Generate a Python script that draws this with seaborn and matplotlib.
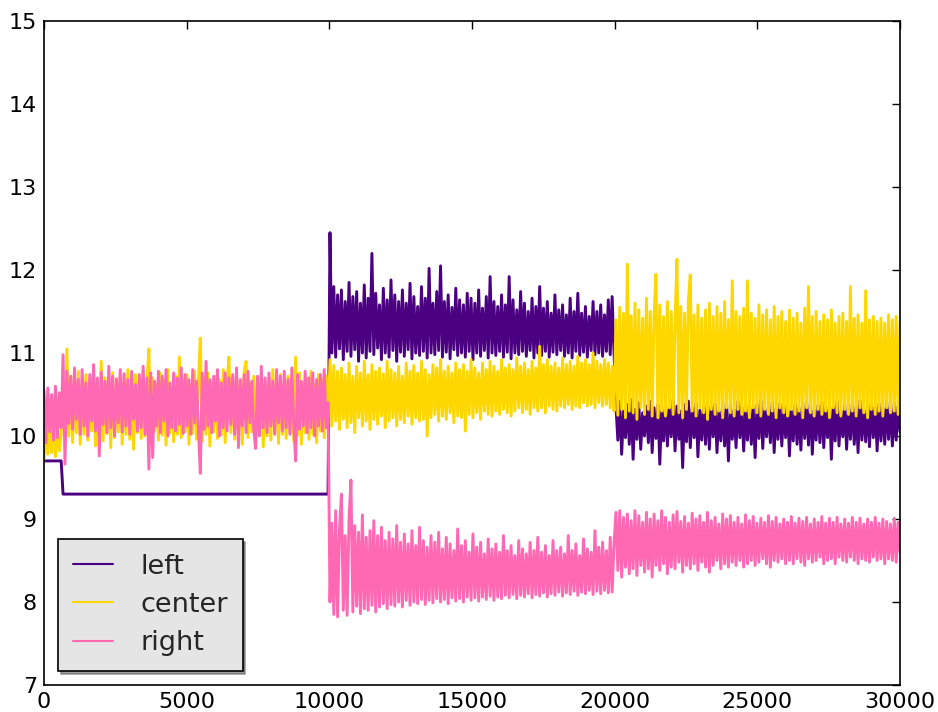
import numpy as np
import pandas as pd
import matplotlib
matplotlib.use("Agg")
import matplotlib.pyplot as plt
import seaborn as sns

# ---------------- data ----------------
SERIES = ["left", "center", "right"]
COLORS = ["#4B0082", "#FFD700", "#FF69B4"]
X_TICKS = [0, 5000, 10000, 15000, 20000, 25000, 30000]
Y_TICKS = [7, 8, 9, 10, 11, 12, 13, 14, 15]

LEFT_A = [9.70] * 10 + [9.30] * 140
LEFT_B = [
    12.45, 11.00, 11.80, 10.95, 11.70, 11.05, 11.76, 10.92, 11.62, 11.02,
    11.85, 10.96, 11.68, 11.04, 11.74, 10.90, 11.60, 11.00, 11.82, 10.94,
    11.66, 11.02, 12.20, 10.98, 11.72, 11.06, 11.58, 10.92, 11.78, 11.00,
    11.64, 10.95, 11.88, 11.03, 11.70, 10.90, 11.62, 11.01, 11.76, 10.96,
    11.60, 11.04, 11.84, 10.93, 11.68, 11.00, 11.56, 10.97, 11.80, 11.02,
    11.66, 10.94, 12.02, 11.00, 11.60, 10.98, 11.74, 11.03, 12.05, 10.95,
    11.62, 11.01, 11.70, 10.93, 11.55, 11.04, 11.78, 10.97, 11.64, 11.00,
    11.58, 10.95, 11.72, 11.02, 11.66, 10.92, 11.60, 11.00, 11.76, 10.96,
    11.54, 11.03, 11.68, 10.94, 11.92, 11.00, 11.62, 10.97, 11.56, 11.02,
    11.70, 10.95, 11.58, 11.01, 11.92, 10.93, 11.64, 11.00, 11.52, 10.98,
    11.74, 11.02, 11.60, 10.96, 11.50, 11.03, 11.66, 10.94, 11.56, 11.00,
    11.80, 10.97, 11.54, 11.02, 11.62, 10.95, 11.48, 11.01, 11.70, 10.98,
    11.52, 11.03, 11.58, 10.96, 11.46, 11.00, 11.66, 10.94, 11.50, 11.02,
    11.72, 10.97, 11.48, 11.01, 11.56, 10.95, 11.44, 11.03, 11.62, 10.98,
    11.50, 11.00, 11.58, 10.96, 11.46, 11.02, 11.64, 10.98, 11.68, 11.00,
]
LEFT_C = [
    10.36, 9.95, 10.42, 9.78, 10.30, 9.98, 10.38, 9.90, 10.44, 9.72,
    10.32, 9.96, 10.40, 9.84, 10.28, 10.00, 10.36, 9.92, 10.42, 9.80,
    10.34, 9.97, 10.38, 9.66, 10.30, 9.94, 10.40, 9.88, 10.33, 9.99,
    10.44, 9.82, 10.36, 9.96, 10.30, 9.62, 10.38, 9.93, 10.42, 9.86,
    10.34, 9.98, 10.40, 9.75, 10.31, 9.95, 10.37, 9.90, 10.43, 9.84,
    10.35, 9.99, 10.39, 9.80, 10.30, 9.94, 10.41, 9.88, 10.34, 9.70,
    10.38, 9.96, 10.32, 9.86, 10.42, 9.98, 10.36, 9.82, 10.30, 9.95,
    10.40, 9.90, 10.34, 9.74, 10.38, 9.97, 10.44, 9.85, 10.32, 9.99,
    10.37, 9.92, 10.41, 9.80, 10.33, 9.96, 10.39, 9.88, 10.35, 9.98,
    10.42, 9.76, 10.30, 9.94, 10.38, 9.90, 10.34, 9.83, 10.40, 9.97,
    10.36, 9.89, 10.43, 9.78, 10.31, 9.95, 10.37, 9.92, 10.41, 9.86,
    10.33, 9.98, 10.39, 9.72, 10.35, 9.94, 10.42, 9.88, 10.30, 9.99,
    10.38, 9.84, 10.34, 9.96, 10.40, 9.90, 10.36, 9.80, 10.43, 9.95,
    10.32, 9.93, 10.38, 9.87, 10.41, 9.98, 10.35, 9.82, 10.39, 9.94,
    10.34, 9.90, 10.42, 9.96, 10.37, 9.88, 10.40, 9.95, 10.36, 10.05,
]

CENTER_A = [
    9.72, 10.05, 9.78, 10.12, 9.80, 10.08, 9.75, 10.10, 9.82, 10.02,
    10.60, 9.96, 11.05, 10.00, 10.72, 9.92, 10.66, 10.04, 10.78, 9.90,
    10.62, 10.02, 10.74, 9.95, 10.58, 10.06, 10.80, 9.88, 10.68, 10.00,
    10.90, 9.94, 10.70, 10.03, 10.64, 9.86, 10.76, 9.98, 10.60, 10.05,
    10.72, 9.90, 10.66, 10.02, 10.80, 9.96, 10.62, 9.84, 10.74, 10.04,
    10.68, 9.97, 10.78, 10.00, 10.64, 11.05, 9.92, 10.70, 10.06, 10.62,
    9.95, 10.76, 10.01, 10.66, 9.89, 10.80, 10.04, 10.58, 9.93, 10.72,
    10.02, 10.95, 9.98, 10.68, 10.05, 10.74, 9.90, 10.62, 10.03, 10.78,
    9.96, 10.66, 11.18, 9.94, 10.70, 10.02, 10.76, 9.88, 10.64, 10.05,
    10.72, 9.97, 10.68, 10.01, 10.80, 9.92, 10.62, 10.95, 10.04, 10.70,
    9.96, 10.74, 10.02, 10.66, 9.90, 10.78, 10.90, 9.98, 10.64, 10.05,
    10.72, 9.93, 10.68, 10.03, 10.76, 9.87, 10.62, 10.00, 10.70, 9.95,
    10.80, 10.04, 10.66, 9.91, 10.74, 10.02, 10.60, 9.97, 10.72, 10.05,
    10.68, 9.94, 10.95, 10.01, 10.76, 9.90, 10.64, 10.04, 10.70, 9.96,
    10.78, 10.02, 10.62, 9.92, 10.74, 10.06, 10.68, 9.98, 10.72, 10.15,
]
CENTER_B = [
    10.92, 10.12, 10.85, 10.18, 10.78, 10.08, 10.82, 10.20, 10.74, 10.10,
    10.88, 10.16, 10.72, 10.04, 10.84, 10.22, 10.76, 10.12, 10.90, 10.18,
    10.74, 10.08, 10.86, 10.20, 10.78, 10.14, 10.82, 10.24, 10.75, 10.10,
    10.90, 10.18, 10.80, 10.22, 10.76, 10.12, 10.84, 10.20, 10.72, 10.16,
    10.88, 10.24, 10.78, 10.14, 10.85, 10.22, 10.76, 10.18, 10.90, 10.20,
    10.80, 10.00, 10.74, 10.22, 10.86, 10.26, 10.82, 10.18, 10.92, 10.24,
    10.78, 10.20, 10.84, 10.28, 10.76, 10.16, 10.88, 10.24, 10.80, 10.22,
    10.86, 10.06, 10.78, 10.26, 10.92, 10.22, 10.82, 10.28, 10.76, 10.20,
    10.88, 10.30, 10.80, 10.26, 10.90, 10.24, 10.84, 10.30, 10.78, 10.26,
    10.92, 10.32, 10.82, 10.28, 10.86, 10.24, 10.80, 10.30, 10.94, 10.34,
    10.84, 10.28, 10.88, 10.32, 10.80, 10.26, 10.90, 10.34, 10.82, 10.30,
    11.08, 10.34, 10.86, 10.28, 10.92, 10.36, 10.84, 10.32, 10.88, 10.30,
    10.82, 10.36, 10.94, 10.34, 10.86, 10.38, 10.90, 10.32, 10.84, 10.36,
    10.96, 10.34, 10.88, 10.40, 10.92, 10.36, 10.86, 10.38, 11.00, 10.34,
    10.90, 10.40, 10.86, 10.36, 10.92, 10.38, 10.88, 10.34, 10.84, 10.30,
]
CENTER_C = [
    11.40, 10.25, 11.55, 10.32, 11.48, 10.22, 12.07, 10.30, 11.45, 10.28,
    11.60, 10.20, 11.52, 10.34, 11.42, 10.26, 11.66, 10.32, 11.50, 10.24,
    11.46, 11.95, 10.22, 11.58, 10.30, 11.44, 10.24, 11.62, 10.34, 11.50,
    10.26, 11.40, 12.13, 10.28, 11.56, 10.22, 11.48, 10.32, 11.64, 11.94,
    10.30, 11.46, 10.24, 11.58, 10.34, 11.42, 10.28, 11.52, 10.20, 11.60,
    10.32, 11.44, 10.26, 11.56, 10.30, 11.48, 10.22, 11.62, 10.34, 11.40,
    10.28, 11.87, 10.24, 11.50, 10.32, 11.44, 10.26, 11.54, 10.30, 11.87,
    10.22, 11.48, 10.34, 11.42, 10.28, 11.58, 10.24, 11.46, 10.32, 11.52,
    10.26, 11.40, 10.30, 11.56, 10.22, 11.44, 10.34, 11.50, 10.28, 11.38,
    10.24, 11.52, 10.32, 11.42, 10.26, 11.48, 10.30, 11.36, 10.22, 11.54,
    10.34, 11.80, 10.28, 11.44, 10.24, 11.50, 10.32, 11.38, 10.26, 11.46,
    10.30, 11.40, 10.22, 11.52, 10.34, 11.36, 10.28, 11.44, 10.24, 11.48,
    10.32, 11.38, 10.26, 11.80, 10.30, 11.42, 10.24, 11.46, 10.34, 11.36,
    10.28, 11.75, 10.22, 11.40, 10.32, 11.44, 10.26, 11.38, 10.30, 11.42,
    10.24, 11.36, 10.34, 11.46, 10.28, 11.40, 10.30, 11.44, 10.26, 11.38,
]

RIGHT_A = [
    10.55, 9.92, 10.58, 10.05, 10.50, 9.95, 10.60, 9.98, 10.52, 10.10,
    10.98, 9.66, 10.78, 10.15, 10.72, 10.08, 10.82, 10.20, 10.68, 10.02,
    10.80, 10.12, 10.64, 10.00, 10.74, 10.18, 10.86, 10.06, 10.70, 9.76,
    10.77, 10.14, 10.66, 10.04, 10.84, 10.10, 10.72, 10.00, 10.69, 10.16,
    10.80, 10.05, 10.75, 10.12, 10.68, 10.02, 10.78, 10.20, 10.62, 10.06,
    10.74, 10.10, 10.84, 10.02, 10.70, 9.60, 10.76, 9.74, 10.66, 10.12,
    10.78, 10.04, 10.72, 10.18, 10.80, 10.00, 10.64, 10.10, 10.76, 10.06,
    10.70, 10.14, 10.82, 10.03, 10.74, 10.12, 10.68, 10.02, 10.80, 10.16,
    10.66, 10.08, 9.55, 10.76, 10.08, 10.90, 10.12, 10.68, 10.04, 10.72,
    10.18, 10.80, 10.00, 10.64, 10.10, 10.76, 10.06, 10.70, 10.14, 10.74,
    10.02, 10.82, 9.86, 10.68, 10.12, 10.74, 10.04, 10.78, 10.16, 10.66,
    10.08, 9.85, 10.72, 10.00, 10.84, 10.10, 10.70, 10.04, 10.76, 10.12,
    10.66, 10.02, 10.80, 10.16, 10.72, 10.06, 10.78, 10.10, 10.68, 10.02,
    10.82, 10.14, 9.70, 10.74, 10.08, 10.66, 10.12, 10.78, 10.04, 10.70,
    10.10, 10.76, 10.00, 10.68, 10.12, 10.74, 10.06, 10.80, 10.10, 10.40,
]
RIGHT_B = [
    8.00, 8.95, 7.85, 9.10, 7.82, 8.88, 9.30, 7.90, 8.80, 7.84,
    9.00, 9.47, 7.88, 8.92, 7.95, 8.84, 7.86, 9.05, 7.92, 8.78,
    7.90, 8.86, 7.96, 8.98, 7.88, 8.80, 7.94, 8.90, 7.98, 8.74,
    7.92, 8.84, 7.97, 8.76, 7.95, 8.92, 8.00, 8.72, 7.94, 8.82,
    8.02, 8.70, 7.96, 8.86, 8.00, 8.68, 7.98, 8.90, 8.03, 8.74,
    7.97, 8.66, 8.02, 8.80, 7.99, 8.72, 8.04, 8.84, 8.00, 8.64,
    8.03, 8.78, 7.98, 8.70, 8.05, 8.62, 8.01, 8.88, 8.04, 8.68,
    8.00, 8.74, 8.06, 8.60, 8.02, 8.82, 8.05, 8.66, 8.01, 8.72,
    8.06, 8.58, 8.03, 8.76, 8.07, 8.64, 8.02, 8.70, 8.06, 8.60,
    8.04, 8.80, 8.08, 8.62, 8.05, 8.68, 8.09, 8.56, 8.04, 8.74,
    8.08, 8.64, 8.06, 8.58, 8.10, 8.72, 8.05, 8.62, 8.09, 8.78,
    8.07, 8.60, 8.11, 8.68, 8.06, 8.56, 8.10, 8.74, 8.08, 8.62,
    8.12, 8.66, 8.07, 8.58, 8.11, 8.80, 8.09, 8.62, 8.13, 8.70,
    8.08, 8.56, 8.12, 8.76, 8.10, 8.64, 8.14, 8.60, 8.09, 8.86,
    8.13, 8.66, 8.10, 8.72, 8.14, 8.62, 8.11, 8.78, 8.12, 8.70,
]
RIGHT_C = [
    9.08, 8.38, 9.10, 8.30, 9.02, 8.42, 9.06, 8.34, 8.98, 8.40,
    9.10, 8.32, 9.04, 8.44, 8.96, 8.36, 9.08, 8.40, 9.00, 8.30,
    9.06, 8.44, 8.98, 8.38, 9.10, 8.46, 9.02, 8.34, 8.96, 8.42,
    9.05, 8.40, 9.09, 8.48, 8.97, 8.36, 9.03, 8.44, 8.95, 8.40,
    9.07, 8.46, 9.00, 8.38, 9.04, 8.48, 8.96, 8.42, 9.08, 8.36,
    8.98, 8.44, 9.02, 8.50, 8.94, 8.40, 9.06, 8.46, 9.00, 8.42,
    9.04, 8.48, 8.96, 8.44, 9.02, 8.50, 8.94, 8.42, 9.05, 8.46,
    8.98, 8.50, 9.03, 8.44, 8.95, 8.48, 9.01, 8.52, 8.96, 8.46,
    9.04, 8.42, 8.97, 8.50, 9.02, 8.48, 8.94, 8.52, 9.00, 8.46,
    8.96, 8.50, 9.03, 8.46, 8.95, 8.52, 9.01, 8.48, 8.97, 8.44,
    9.02, 8.52, 8.94, 8.48, 9.00, 8.50, 8.96, 8.54, 9.03, 8.46,
    8.95, 8.50, 9.01, 8.52, 8.96, 8.46, 9.02, 8.54, 8.94, 8.50,
    9.00, 8.48, 8.95, 8.54, 9.02, 8.50, 8.96, 8.46, 9.01, 8.52,
    8.94, 8.50, 9.00, 8.48, 8.96, 8.54, 9.02, 8.50, 8.95, 8.52,
    9.00, 8.46, 8.97, 8.52, 8.94, 8.50, 9.01, 8.48, 8.96, 8.60,
]

# ---------------- build long table ----------------
values = {
    "left": LEFT_A + LEFT_B + LEFT_C,
    "center": CENTER_A + CENTER_B + CENTER_C,
    "right": RIGHT_A + RIGHT_B + RIGHT_C,
}
steps = np.linspace(0, 30000, len(values["left"]))
frames = []
for name in SERIES:
    frames.append(pd.DataFrame({"step": steps, "value": values[name], "series": name}))
df = pd.concat(frames, ignore_index=True)

# ---------------- style ----------------
sns.set_style("white")
plt.rcParams["font.family"] = ["DejaVu Sans"]

fig = plt.figure(figsize=(9.38, 7.12), dpi=100)
ax = fig.add_axes([44 / 938, 27 / 712, 856 / 938, 664 / 712])

sns.lineplot(data=df, x="step", y="value", hue="series", hue_order=SERIES,
             palette=COLORS, estimator=None, sort=False, linewidth=2.1,
             ax=ax)

ax.set_xlim(0, 30000)
ax.set_ylim(7, 15)
ax.set_xticks(X_TICKS)
ax.set_yticks(Y_TICKS)
ax.set_xlabel("")
ax.set_ylabel("")
ax.tick_params(direction="in", top=True, right=True, length=6, width=1,
               labelsize=16, pad=5, colors="black")
for sp in ax.spines.values():
    sp.set_visible(True)
    sp.set_color("black")
    sp.set_linewidth(1.2)

sns.move_legend(ax, "lower left", title="", fontsize=19.5, frameon=True,
                shadow=True, fancybox=False, facecolor="#e5e5e5",
                edgecolor="black", framealpha=1, handlelength=1.48,
                handletextpad=1.0, borderpad=0.55, labelspacing=0.45,
                borderaxespad=0.52)
leg = ax.get_legend()
leg.get_frame().set_linewidth(1.2)
for line in leg.get_lines():
    line.set_linewidth(1.5)

fig.savefig("out.png", dpi=100, facecolor="white")
